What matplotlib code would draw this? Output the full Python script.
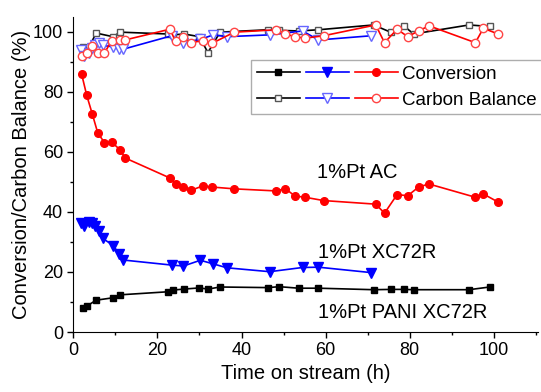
import numpy as np
import matplotlib as mpl
mpl.use('Agg')
import matplotlib.pyplot as plt
from matplotlib.ticker import MultipleLocator

plt.rcParams['font.family'] = ['Liberation Sans', 'DejaVu Sans']

# 1%Pt PANI XC72R
t_pani = [2.2, 3.3, 5.4, 9.4, 11.2, 22.4, 23.8, 26.3, 30.0, 32.0, 34.9,
          46.2, 49.0, 53.6, 58.3, 71.4, 75.6, 78.6, 80.9, 94.1, 99.0]
conv_pani = [8.0, 8.7, 10.6, 11.4, 12.4, 13.4, 14.0, 14.3, 14.7, 14.3, 15.0,
             14.8, 15.1, 14.6, 14.6, 14.1, 14.2, 14.2, 14.1, 14.1, 15.0]
cb_pani = [95.1, 93.5, 99.6, 98.4, 99.9, 99.3, 99.0, 99.3, 98.4, 93.1, 99.9,
           100.7, 100.5, 100.3, 100.7, 102.3, 99.8, 102.0, 99.3, 102.3, 101.8]

# 1%Pt XC72R
t_xc = [1.8, 2.5, 3.8, 4.5, 5.1, 6.0, 7.0, 9.5, 10.9, 11.8, 23.4, 26.2,
        30.2, 33.3, 36.5, 46.7, 54.5, 58.3, 70.8]
conv_xc = [36.2, 35.4, 36.7, 36.4, 35.3, 33.8, 31.2, 28.8, 26.0, 24.0, 22.3, 22.0,
           23.9, 22.7, 21.4, 20.1, 21.5, 21.6, 19.8]
cb_xc = [94.0, 92.0, 93.0, 94.5, 95.5, 96.4, 95.5, 95.0, 94.2, 94.2, 98.7, 96.4,
         97.5, 99.0, 98.4, 99.0, 100.3, 97.3, 98.7]

# 1%Pt AC
t_ac = [2.0, 3.2, 4.5, 5.8, 7.4, 9.1, 11.2, 12.3, 23.0, 24.3, 26.0, 28.0,
        30.8, 33.0, 38.3, 48.3, 50.4, 52.7, 55.1, 59.5, 71.9, 74.0, 77.0,
        79.5, 82.2, 84.6, 95.6, 97.5, 101.0]
conv_ac = [85.8, 78.8, 72.7, 66.4, 63.1, 63.3, 60.6, 58.0, 51.3, 49.3, 48.2, 47.2,
           48.7, 48.3, 47.7, 47.0, 47.8, 45.3, 44.9, 43.8, 42.6, 39.6, 45.8,
           45.4, 48.4, 49.3, 44.9, 46.0, 43.3]
cb_ac = [92.0, 92.9, 95.4, 92.9, 92.9, 97.1, 97.3, 97.3, 100.9, 96.8, 98.2, 96.4,
         97.1, 96.2, 99.9, 100.7, 99.3, 98.4, 97.9, 98.7, 102.3, 96.4, 100.9,
         98.4, 100.4, 102.0, 96.4, 101.2, 99.3]

fig = plt.figure(figsize=(5.41, 3.92), dpi=100)
ax = fig.add_axes([0.1355, 0.153, 0.859, 0.804])

lw = 1.2
h1, = ax.plot(t_pani, conv_pani, '-s', color='black', ms=4.5, lw=lw)
h2, = ax.plot(t_pani, cb_pani, '-s', color='black', ms=5, lw=lw,
              mfc='white', mec='#555555')
h3, = ax.plot(t_xc, conv_xc, '-v', color='blue', ms=6.5, lw=lw)
h4, = ax.plot(t_xc, cb_xc, '-v', color='blue', ms=6.5, lw=lw,
              mfc='white', mec='#6666ff')
h5, = ax.plot(t_ac, conv_ac, '-o', color='red', ms=5.5, lw=lw)
h6, = ax.plot(t_ac, cb_ac, '-o', color='red', ms=6, lw=lw,
              mfc='white', mec='#ff4444')

ax.set_xlim(0, 110.5)
ax.set_ylim(0, 105)
ax.xaxis.set_major_locator(MultipleLocator(20))
ax.xaxis.set_minor_locator(MultipleLocator(10))
ax.yaxis.set_major_locator(MultipleLocator(20))
ax.yaxis.set_minor_locator(MultipleLocator(10))
ax.spines['top'].set_visible(False)
ax.spines['right'].set_visible(False)
ax.tick_params(which='major', direction='out', length=4, width=1, labelsize=13)
ax.tick_params(which='minor', direction='out', length=2.5, width=1)

ax.set_xlabel('Time on stream (h)', fontsize=14.5, labelpad=3)
ax.set_ylabel('Conversion/Carbon Balance (%)', fontsize=14.5, labelpad=1)

ax.text(57.9, 53.1, '1%Pt AC', fontsize=14.5, va='center')
ax.text(58.2, 26.6, '1%Pt XC72R', fontsize=14.5, va='center')
ax.text(58.2, 6.6, '1%Pt PANI XC72R', fontsize=14.5, va='center')

leg = ax.legend([h1, h2, h3, h4, h5, h6], ['', '', '', '', 'Conversion', 'Carbon Balance'],
                ncol=3, loc='upper left', bbox_to_anchor=(0.3826, 0.8635),
                fontsize=13.5, handlelength=2.3, handletextpad=0.21, columnspacing=0.1,
                frameon=True, fancybox=False, borderpad=0.3, labelspacing=0.47,
                borderaxespad=0)
leg.get_frame().set_edgecolor('#999999')
leg.get_frame().set_linewidth(1)

fig.savefig('out.png', dpi=100)
